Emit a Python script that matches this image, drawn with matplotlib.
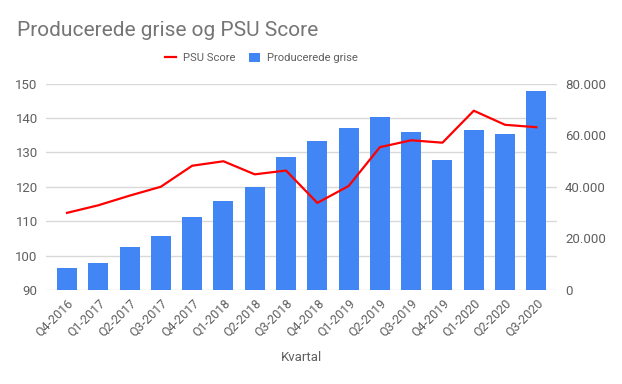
import matplotlib
matplotlib.use("Agg")
import matplotlib.pyplot as plt
from matplotlib.ticker import FuncFormatter

plt.rcParams['font.family'] = ['Roboto', 'DejaVu Sans']

kvartaler = ["Q4-2016", "Q1-2017", "Q2-2017", "Q3-2017", "Q4-2017", "Q1-2018",
             "Q2-2018", "Q3-2018", "Q4-2018", "Q1-2019", "Q2-2019", "Q3-2019",
             "Q4-2019", "Q1-2020", "Q2-2020", "Q3-2020"]
grise = [8400, 10500, 16500, 20900, 28200, 34500, 39800, 51400, 57700, 62600,
         67000, 61300, 50200, 61900, 60300, 77000]
psu = [112.4, 114.6, 117.4, 120.0, 126.1, 127.4, 123.6, 124.7, 115.3, 120.2,
       131.5, 133.5, 132.8, 142.1, 138.0, 137.3]

txt = '#5f5f5f'
fig = plt.figure(figsize=(6.22, 3.84), dpi=100)
ax = fig.add_axes([0.074, 0.245, 0.821, 0.5375])
ax2 = ax.twinx()

x = list(range(len(kvartaler)))
ax2.bar(x, grise, width=0.64, color='#4285f4', zorder=2, label='Producerede grise')
ax.plot(x, psu, color='#ff0000', lw=1.6, zorder=3, label='PSU Score')

ax.set_zorder(ax2.get_zorder() + 1)
ax.patch.set_visible(False)

ax.set_ylim(90, 150)
ax.set_yticks(range(90, 151, 10))
ax2.set_ylim(0, 80000)
ax2.set_yticks(range(0, 80001, 20000))
ax2.yaxis.set_major_formatter(FuncFormatter(lambda v, p: f"{int(v):,}".replace(",", ".")))
ax.set_xlim(-0.67, 15.65)

# gridlines drawn on bar axis so they sit behind bars
for v in range(90, 151, 10):
    ax2.axhline((v - 90) / 60 * 80000, color='#d9d9d9', lw=1, zorder=1)

for a in (ax, ax2):
    for s in a.spines.values():
        s.set_visible(False)
    a.tick_params(length=0, colors=txt, labelsize=9.5)
ax.tick_params(axis='y', pad=6)
ax2.tick_params(axis='y', pad=6)

ax.set_xticks(x)
ax.set_xticklabels(kvartaler, rotation=45, ha='right', rotation_mode='anchor')
ax.tick_params(axis='x', pad=5, labelsize=9)
ax.set_xlabel("Kvartal", color=txt, fontsize=9.5, labelpad=8)

fig.text(0.027, 0.92, "Producerede grise og PSU Score", fontsize=15, color='#757575', va='center')

h1, l1 = ax.get_legend_handles_labels()
h2, l2 = ax2.get_legend_handles_labels()
leg = fig.legend(h1 + h2, l1 + l2, loc='center', bbox_to_anchor=(0.42, 0.849), ncol=2,
                 frameon=False, fontsize=8.1, handlelength=1.0, handleheight=0.9,
                 columnspacing=1.2, handletextpad=0.6)
for t in leg.get_texts():
    t.set_color(txt)

fig.savefig("out.png", dpi=100)
